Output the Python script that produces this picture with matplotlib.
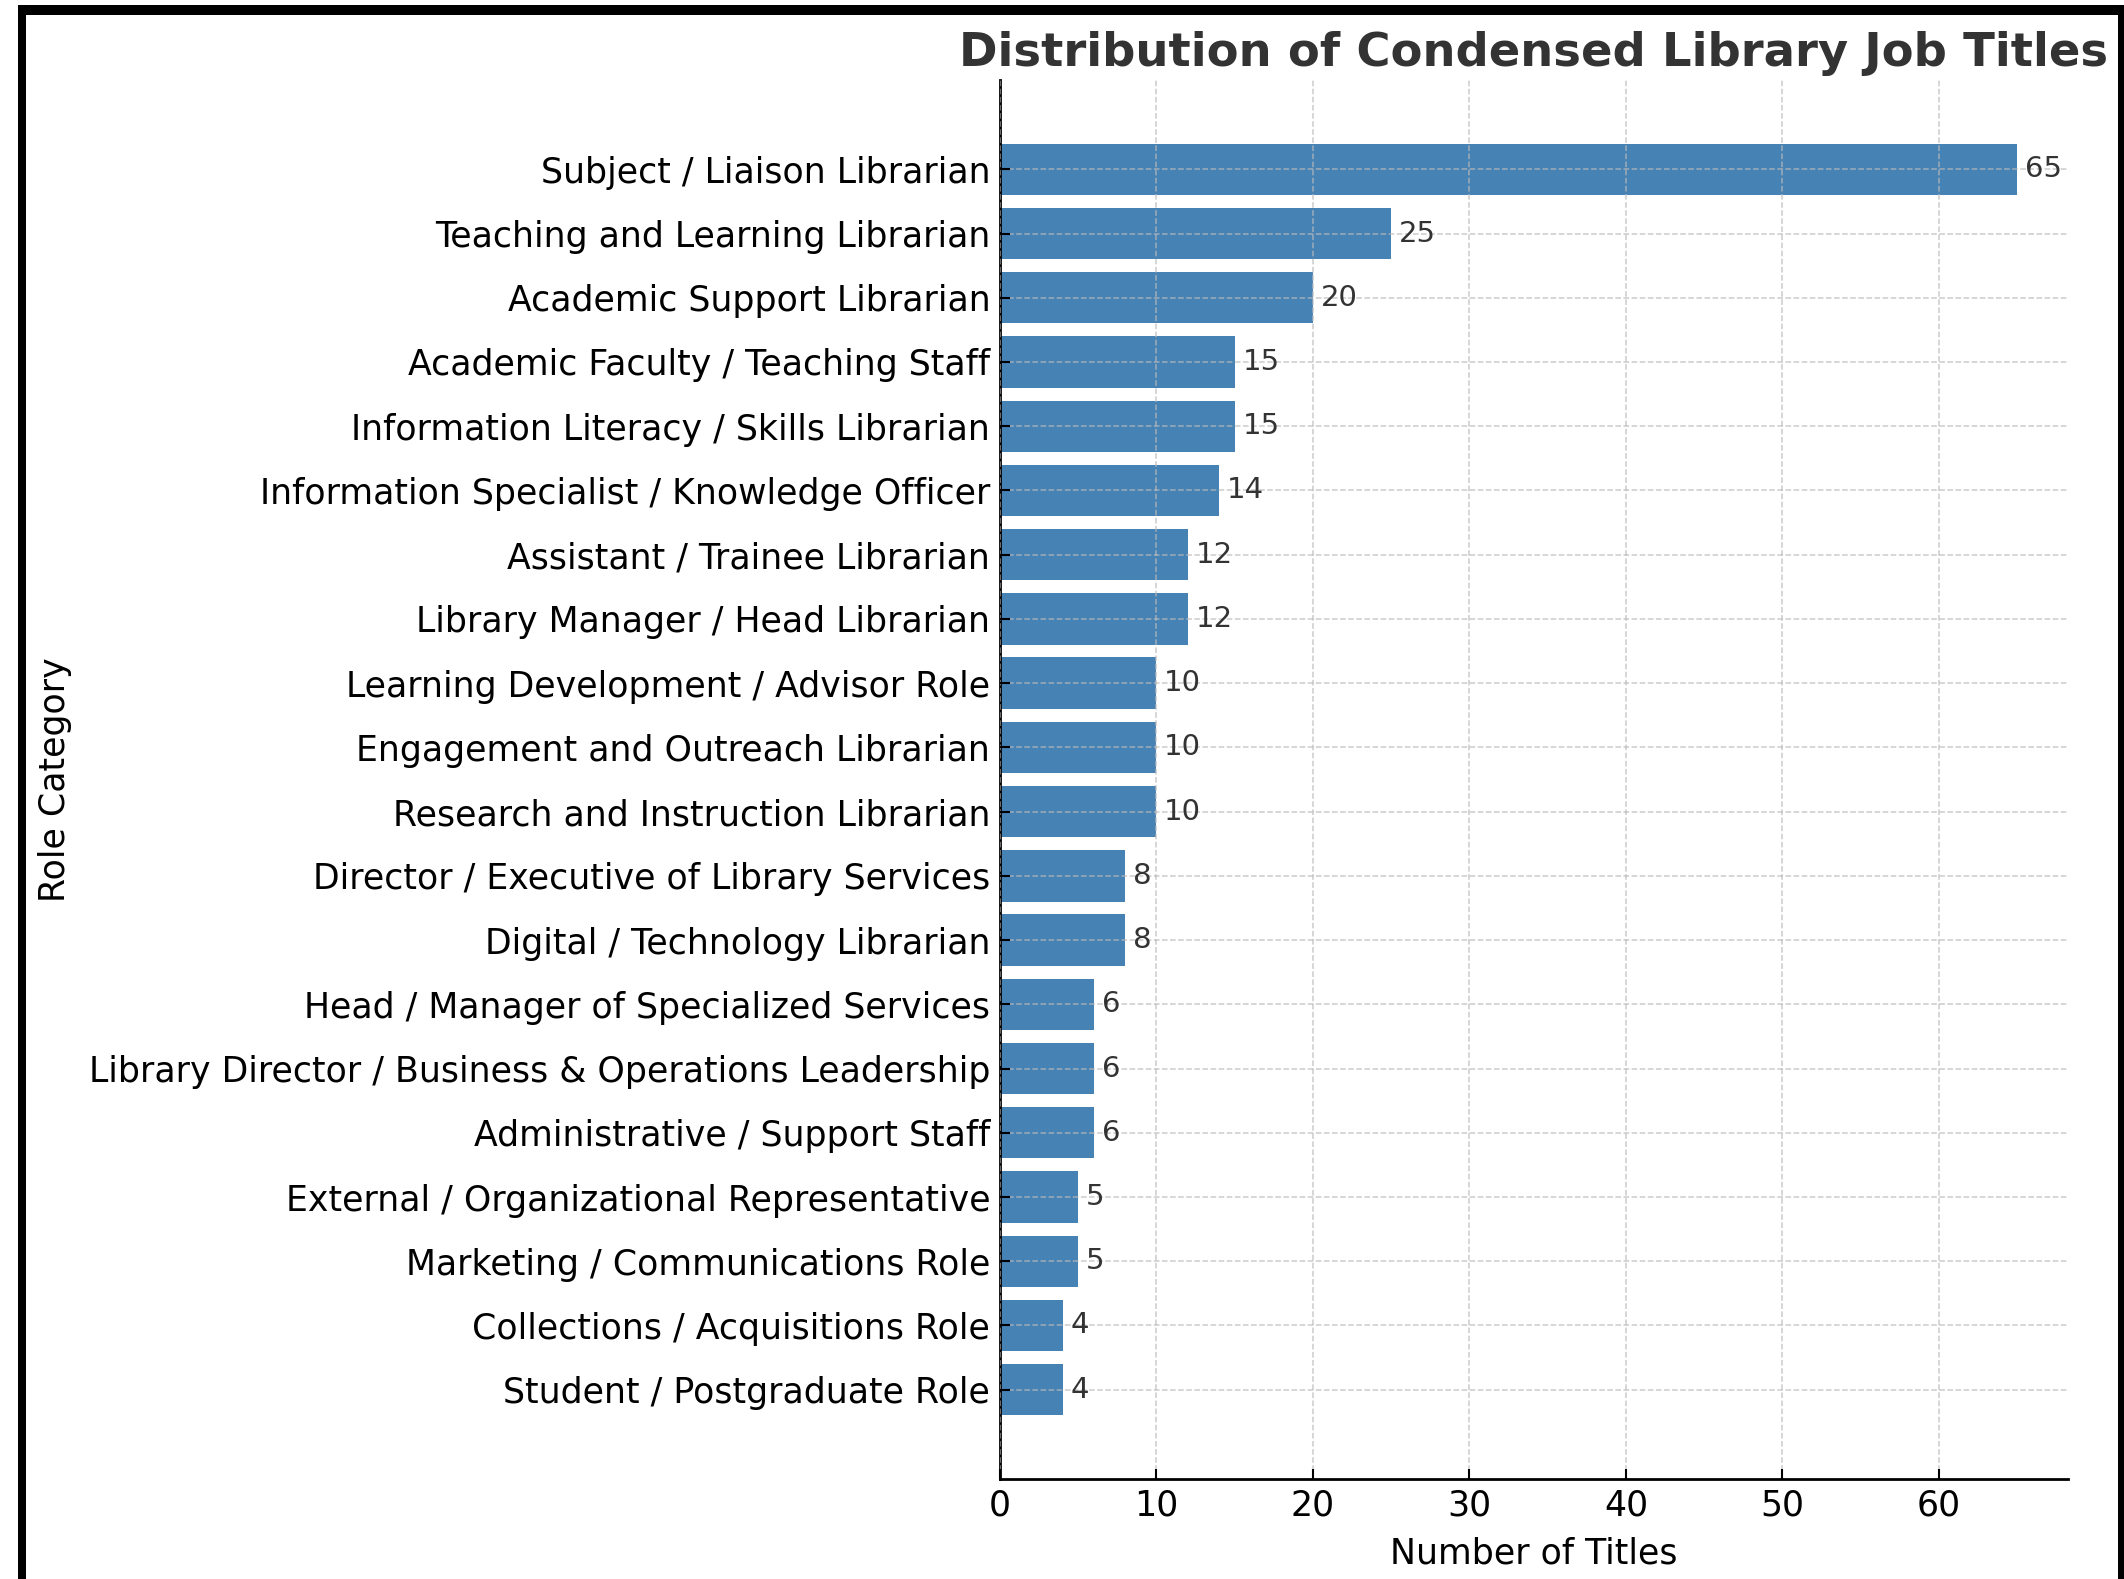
import matplotlib
matplotlib.use("Agg")
import matplotlib.pyplot as plt
from matplotlib.patches import Rectangle

roles = [
    "Subject / Liaison Librarian",
    "Teaching and Learning Librarian",
    "Academic Support Librarian",
    "Academic Faculty / Teaching Staff",
    "Information Literacy / Skills Librarian",
    "Information Specialist / Knowledge Officer",
    "Assistant / Trainee Librarian",
    "Library Manager / Head Librarian",
    "Learning Development / Advisor Role",
    "Engagement and Outreach Librarian",
    "Research and Instruction Librarian",
    "Director / Executive of Library Services",
    "Digital / Technology Librarian",
    "Head / Manager of Specialized Services",
    "Library Director / Business & Operations Leadership",
    "Administrative / Support Staff",
    "External / Organizational Representative",
    "Marketing / Communications Role",
    "Collections / Acquisitions Role",
    "Student / Postgraduate Role",
]
counts = [65, 25, 20, 15, 15, 14, 12, 12, 10, 10, 10, 8, 8, 6, 6, 6, 5, 5, 4, 4]

W, H = 2124, 1579
fig = plt.figure(figsize=(W / 100, H / 100), dpi=100)
fig.patch.set_facecolor("white")

# black screenshot frame
for x0, y0, w, h in [(18, 0, 8, H - 5), (18, H - 15, W - 18, 10), (W - 6, 0, 6, H - 5)]:
    fig.patches.append(Rectangle((x0 / W, y0 / H), w / W, h / H, transform=fig.transFigure,
                                 facecolor="black", edgecolor="none", zorder=10))

ax = fig.add_axes([1000 / W, 1 - 1479 / H, 1068 / W, 1399 / H])
ax.barh(roles, counts, color="steelblue", height=0.8)
ax.invert_yaxis()

for i, v in enumerate(counts):
    ax.text(v + 0.5, i, str(v), va="center", ha="left", fontsize=21, color="#333333")

ax.grid(True, linestyle="--", color="#bbbbbb", linewidth=1.1, alpha=0.75)
ax.set_axisbelow(False)
ax.spines["top"].set_visible(False)
ax.spines["right"].set_visible(False)
ax.spines["left"].set_linewidth(2)
ax.spines["bottom"].set_linewidth(2)
ax.tick_params(axis="both", direction="in", length=7, width=1.5, labelsize=25, pad=7)

ax.set_xlabel("Number of Titles", fontsize=25, labelpad=10)
ax.set_ylabel("Role Category", fontsize=25)
ax.yaxis.set_label_coords(-(1000 - 72) / 1068, 0.5)
ax.set_title("Distribution of Condensed Library Job Titles", fontsize=33.5,
             fontweight="bold", color="#333333", pad=10)

fig.savefig("out.png", dpi=100, facecolor=fig.get_facecolor())
